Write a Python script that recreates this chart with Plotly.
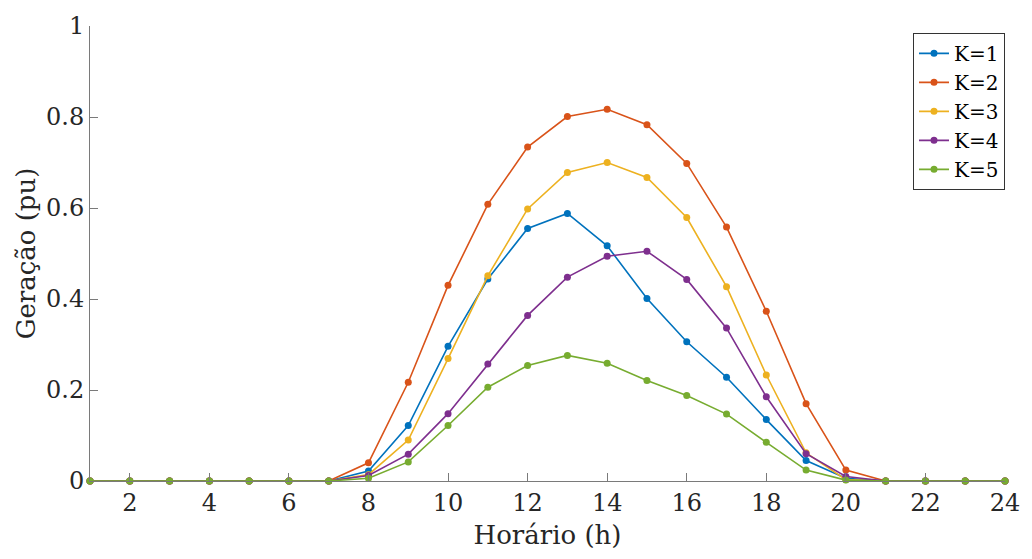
import plotly.graph_objects as go

# Hourly generation profiles (pu) for each cluster K
hours = list(range(1, 25))

k1 = [0, 0, 0, 0, 0, 0, 0, 0.022, 0.122, 0.296, 0.444, 0.555, 0.588, 0.517, 0.401, 0.306,
      0.228, 0.135, 0.045, 0.006, 0, 0, 0, 0]
k2 = [0, 0, 0, 0, 0, 0, 0, 0.040, 0.217, 0.430, 0.608, 0.734, 0.801, 0.817, 0.783, 0.698,
      0.558, 0.373, 0.170, 0.024, 0, 0, 0, 0]
k3 = [0, 0, 0, 0, 0, 0, 0, 0.014, 0.090, 0.269, 0.451, 0.598, 0.678, 0.700, 0.667, 0.579,
      0.427, 0.233, 0.062, 0.003, 0, 0, 0, 0]
k4 = [0, 0, 0, 0, 0, 0, 0, 0.012, 0.059, 0.148, 0.257, 0.364, 0.448, 0.494, 0.505, 0.443,
      0.336, 0.185, 0.060, 0.010, 0, 0, 0, 0]
k5 = [0, 0, 0, 0, 0, 0, 0, 0.006, 0.042, 0.122, 0.206, 0.254, 0.276, 0.259, 0.221, 0.188,
      0.147, 0.085, 0.024, 0.002, 0, 0, 0, 0]

series = [("K=1", k1, "#0072BD"), ("K=2", k2, "#D95319"), ("K=3", k3, "#EDB120"),
          ("K=4", k4, "#7E2F8E"), ("K=5", k5, "#77AC30")]

x_ticks = list(range(2, 25, 2))
y_ticks = [0, 0.2, 0.4, 0.6, 0.8, 1]

font_family = "DejaVu Serif"
axis_color = "#7a7a7a"

fig = go.Figure()
for name, vals, color in series:
    fig.add_trace(go.Scatter(
        x=hours, y=vals, name=name, mode="lines+markers",
        line=dict(color=color, width=1.6),
        marker=dict(color=color, size=7),
        cliponaxis=False,
    ))

fig.update_layout(
    width=1032, height=559,
    margin=dict(l=90, r=19, t=24, b=78),
    paper_bgcolor="white", plot_bgcolor="white",
    font=dict(family=font_family, size=24, color="#262626"),
    showlegend=True,
    legend=dict(
        x=1.0, y=0.985, xanchor="right", yanchor="top",
        bgcolor="white", bordercolor="#333333", borderwidth=1,
        font=dict(family=font_family, size=20, color="#000000"),
        itemwidth=30, tracegroupgap=0,
    ),
    xaxis=dict(
        range=[1, 24], tickvals=x_ticks, ticks="inside", ticklen=8,
        tickcolor=axis_color, showline=True, linecolor=axis_color, linewidth=1,
        showgrid=False, zeroline=False,
        title=dict(text="Horário (h)", font=dict(family=font_family, size=26), standoff=10),
        tickfont=dict(family=font_family, size=24),
    ),
    yaxis=dict(
        range=[0, 1], tickvals=y_ticks, ticks="inside", ticklen=8,
        tickcolor=axis_color, showline=True, linecolor=axis_color, linewidth=1,
        showgrid=False, zeroline=False,
        title=dict(text="Geração (pu)", font=dict(family=font_family, size=26), standoff=2),
        tickfont=dict(family=font_family, size=24),
    ),
)

fig.write_html("out.html")
